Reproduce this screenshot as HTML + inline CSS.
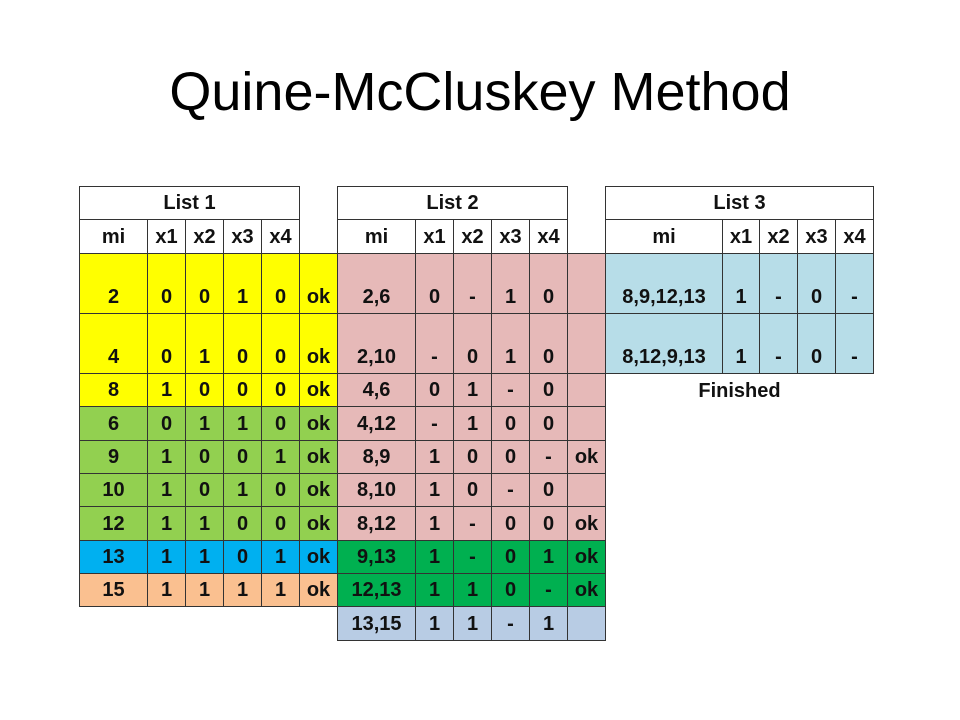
<!DOCTYPE html>
<html><head><meta charset="utf-8"><style>
body{margin:0;width:960px;height:720px;background:#fff;position:relative;overflow:hidden;font-family:"Liberation Sans",sans-serif}
#title{position:absolute;left:0;width:960px;top:61px;text-align:center;font-size:54px;color:#000}
.c{position:absolute;box-sizing:border-box;display:flex;justify-content:center;align-items:flex-end;padding-bottom:4px;font-weight:bold;font-size:20px;color:#111}
.b{border:1px solid #333}
</style></head><body>
<div id="title">Quine-McCluskey Method</div>
<div id="t"></div>
<script>
const Y=[186,219,253,313,373,406,440,473,506,540,573,606,640];
const L1x=[79,147,185,223,261,299,337];
const L2x=[337,415,453,491,529,567,605];
const L3x=[605,722,759,797,835,873];
const YEL='#ffff00',GRN='#92d050',BLU='#00b0f0',PEA='#fac090',PNK='#e6b9b8',DGR='#00b050',GRY='#b8cce4',LBL='#b7dde8';
const list1=[["2","0","0","1","0","ok",YEL],["4","0","1","0","0","ok",YEL],["8","1","0","0","0","ok",YEL],["6","0","1","1","0","ok",GRN],["9","1","0","0","1","ok",GRN],["10","1","0","1","0","ok",GRN],["12","1","1","0","0","ok",GRN],["13","1","1","0","1","ok",BLU],["15","1","1","1","1","ok",PEA]];
const list2=[["2,6","0","-","1","0","",PNK],["2,10","-","0","1","0","",PNK],["4,6","0","1","-","0","",PNK],["4,12","-","1","0","0","",PNK],["8,9","1","0","0","-","ok",PNK],["8,10","1","0","-","0","",PNK],["8,12","1","-","0","0","ok",PNK],["9,13","1","-","0","1","ok",DGR],["12,13","1","1","0","-","ok",DGR],["13,15","1","1","-","1","",GRY]];
const list3=[["8,9,12,13","1","-","0","-"],["8,12,9,13","1","-","0","-"]];
const T=document.getElementById('t');
function cell(x0,x1,y0,y1,txt,bg,border,name){
  const d=document.createElement('div');
  d.className='c'+(border?' b':'');
  d.style.left=x0+'px';d.style.top=y0+'px';d.style.width=(x1-x0+1)+'px';d.style.height=(y1-y0+1)+'px';
  if(bg)d.style.background=bg;
  d.textContent=txt;
  
  
  T.appendChild(d);
}
const H=["mi","x1","x2","x3","x4"];
cell(79,299,Y[0],Y[1],"List 1",null,true,'list1-title');
cell(337,567,Y[0],Y[1],"List 2",null,true,'list2-title');
cell(605,873,Y[0],Y[1],"List 3",null,true,'list3-title');
for(let i=0;i<5;i++){
  cell(L1x[i],L1x[i+1],Y[1],Y[2],H[i],null,true,'list1-header');
  cell(L2x[i],L2x[i+1],Y[1],Y[2],H[i],null,true,'list2-header');
  cell(L3x[i],L3x[i+1],Y[1],Y[2],H[i],null,true,'list3-header');
}
list1.forEach((r,j)=>{for(let i=0;i<6;i++)cell(L1x[i],L1x[i+1],Y[j+2],Y[j+3],r[i],r[6],true,'list1-cell');});
list2.forEach((r,j)=>{for(let i=0;i<6;i++)cell(L2x[i],L2x[i+1],Y[j+2],Y[j+3],r[i],r[6],true,'list2-cell');});
list3.forEach((r,j)=>{for(let i=0;i<5;i++)cell(L3x[i],L3x[i+1],Y[j+2],Y[j+3],r[i],LBL,true,'list3-cell');});
cell(605,873,Y[4],Y[5],"Finished",null,false,'finished-label');
</script>
</body></html>
